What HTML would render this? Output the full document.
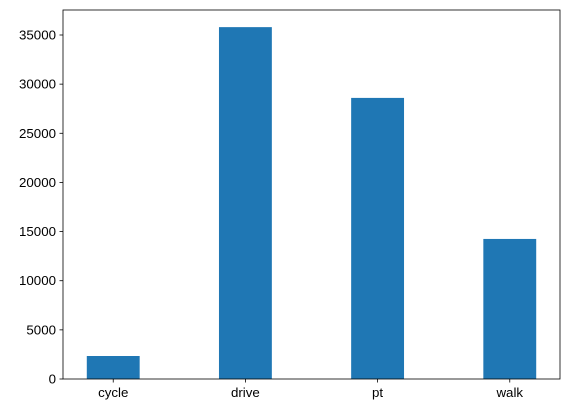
<!DOCTYPE html>
<html><head><meta charset="utf-8">
<style>
html,body{margin:0;padding:0;background:#fff;}
svg{display:block;font-family:"Liberation Sans","DejaVu Sans",sans-serif;}
</style></head>
<body>
<svg id="chart" width="570" height="413" viewBox="0 0 570 413" xmlns="http://www.w3.org/2000/svg"></svg>
<script>
const categories = ["cycle", "drive", "pt", "walk"];
const values = [2340, 35800, 28600, 14250];
const yTicks = [0, 5000, 10000, 15000, 20000, 25000, 30000, 35000];

const L = 63, R = 560, T = 10, B = 379;
const xMin = -0.38, xMax = 3.38;
const yMax = 35000 * (B - T) / (B - 35);
const xs = v => L + (v - xMin) / (xMax - xMin) * (R - L);
const ys = v => B - v / yMax * (B - T);
const barW = 0.4;
const svg = document.getElementById('chart');
const NS = "http://www.w3.org/2000/svg";
function mk(tag, attrs, parent) {
  const e = document.createElementNS(NS, tag);
  for (const k in attrs) e.setAttribute(k, attrs[k]);
  (parent || svg).appendChild(e);
  return e;
}
categories.forEach((c, i) => {
  const r = mk('rect', {x: xs(i - barW/2), y: ys(values[i]), width: xs(i + barW/2) - xs(i - barW/2), height: B - ys(values[i]), fill: '#1f77b4'});
  
  
  const tk = mk('line', {x1: xs(i), x2: xs(i), y1: B, y2: B + 3.5, stroke: '#000', 'stroke-width': 0.8});
  
  
  const t = mk('text', {x: xs(i), y: B + 18, 'text-anchor': 'middle', 'font-size': 13.3, fill: '#000'});
  t.textContent = c;
  
  
});
yTicks.forEach(v => {
  const tk = mk('line', {x1: L - 3.5, x2: L, y1: ys(v), y2: ys(v), stroke: '#000', 'stroke-width': 0.8});
  
  
  const t = mk('text', {x: L - 7, y: ys(v) + 4.5, 'text-anchor': 'end', 'font-size': 13.3, fill: '#000'});
  t.textContent = v;
  
  
});
const frame = mk('rect', {x: L, y: T, width: R - L, height: B - T, fill: 'none', stroke: '#000', 'stroke-width': 0.8});


</script>
</body></html>
